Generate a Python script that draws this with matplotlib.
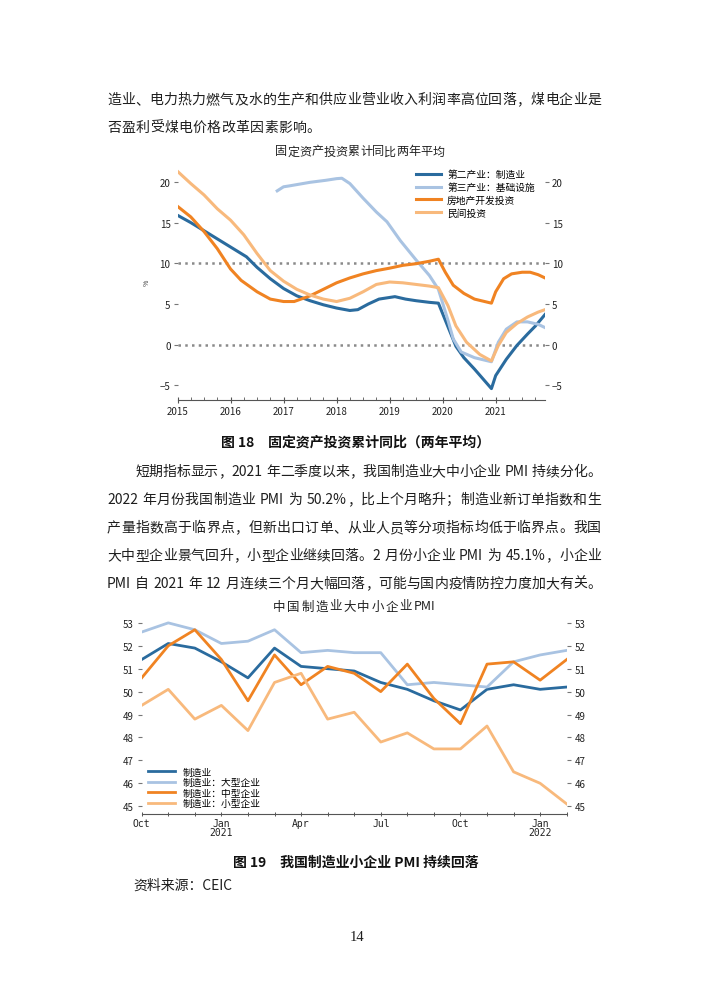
import re
import matplotlib
matplotlib.use('Agg')
import matplotlib.pyplot as plt
from matplotlib.font_manager import FontProperties

plt.rcParams['font.family'] = ['Noto Sans CJK SC', 'DejaVu Sans']
plt.rcParams['axes.unicode_minus'] = True

# ---- chart 1: fixed asset investment, two-year average (%)
mfg_x = [2015.0, 2015.25, 2015.5, 2015.75, 2016.0, 2016.3, 2016.5, 2016.75, 2017.0, 2017.25,
         2017.5, 2017.75, 2018.0, 2018.25, 2018.4, 2018.6, 2018.8, 2019.0, 2019.1, 2019.3,
         2019.5, 2019.75, 2019.92, 2020.1, 2020.25, 2020.4, 2020.6, 2020.92, 2021.0, 2021.2,
         2021.4, 2021.6, 2021.75, 2021.93]
mfg_y = [15.9, 15.0, 14.0, 13.0, 12.0, 10.8, 9.5, 8.1, 6.9, 6.0,
         5.4, 4.9, 4.5, 4.2, 4.3, 5.0, 5.6, 5.8, 5.9, 5.6,
         5.4, 5.2, 5.1, 2.2, -0.2, -1.6, -3.0, -5.4, -3.8, -1.8,
         -0.1, 1.3, 2.3, 3.7]
infra_x = [2016.88, 2017.0, 2017.1, 2017.5, 2017.8, 2018.0, 2018.1, 2018.25, 2018.5, 2018.75,
           2018.95, 2019.2, 2019.5, 2019.75, 2019.92, 2020.1, 2020.2, 2020.35, 2020.6, 2020.92,
           2021.05, 2021.2, 2021.4, 2021.6, 2021.8, 2021.93]
infra_y = [18.9, 19.4, 19.5, 19.95, 20.2, 20.4, 20.45, 19.8, 18.0, 16.3,
           15.1, 12.8, 10.4, 8.5, 6.8, 3.0, 0.7, -0.9, -1.6, -2.1,
           0.3, 1.9, 2.8, 2.8, 2.5, 2.1]
re_x = [2015.0, 2015.25, 2015.5, 2015.75, 2016.0, 2016.2, 2016.5, 2016.75, 2017.0, 2017.2,
        2017.5, 2017.75, 2018.0, 2018.25, 2018.5, 2018.75, 2019.0, 2019.25, 2019.5, 2019.75,
        2019.92, 2020.05, 2020.2, 2020.4, 2020.6, 2020.92, 2021.0, 2021.15, 2021.3, 2021.5,
        2021.65, 2021.8, 2021.93]
re_y = [17.0, 15.7, 13.9, 11.8, 9.3, 7.9, 6.5, 5.6, 5.3, 5.3,
        6.0, 6.8, 7.6, 8.2, 8.7, 9.1, 9.4, 9.75, 9.95, 10.25,
        10.5, 8.9, 7.3, 6.3, 5.6, 5.1, 6.5, 8.1, 8.7, 8.9,
        8.9, 8.6, 8.2]
pi_x = [2015.0, 2015.25, 2015.5, 2015.75, 2016.0, 2016.25, 2016.5, 2016.75, 2017.0, 2017.25,
        2017.5, 2017.75, 2018.0, 2018.25, 2018.5, 2018.75, 2019.0, 2019.25, 2019.5, 2019.75,
        2019.92, 2020.1, 2020.25, 2020.45, 2020.7, 2020.92, 2021.05, 2021.2, 2021.4, 2021.6,
        2021.8, 2021.93]
pi_y = [21.3, 19.8, 18.4, 16.7, 15.3, 13.5, 11.2, 9.1, 7.8, 6.8,
        6.1, 5.6, 5.3, 5.7, 6.5, 7.4, 7.7, 7.6, 7.4, 7.2,
        7.0, 4.8, 2.3, 0.3, -1.2, -2.0, -0.1, 1.5, 2.6, 3.4,
        4.0, 4.3]
c1_labels = ['第二产业：制造业', '第三产业：基础设施', '房地产开发投资', '民间投资']
years = [2015, 2016, 2017, 2018, 2019, 2020, 2021]

# ---- chart 2: PMI by firm size, Oct 2020 - Feb 2022
pmi_all = [51.4, 52.1, 51.9, 51.3, 50.6, 51.9, 51.1, 51.0, 50.9, 50.4, 50.1, 49.6, 49.2, 50.1, 50.3, 50.1, 50.2]
pmi_large = [52.6, 53.0, 52.7, 52.1, 52.2, 52.7, 51.7, 51.8, 51.7, 51.7, 50.3, 50.4, 50.3, 50.2, 51.3, 51.6, 51.8]
pmi_mid = [50.6, 52.0, 52.7, 51.4, 49.6, 51.6, 50.3, 51.1, 50.8, 50.0, 51.2, 49.7, 48.6, 51.2, 51.3, 50.5, 51.4]
pmi_small = [49.4, 50.1, 48.8, 49.4, 48.3, 50.4, 50.8, 48.8, 49.1, 47.8, 48.2, 47.5, 47.5, 48.5, 46.5, 46.0, 45.1]
c2_labels = ['制造业', '制造业：大型企业', '制造业：中型企业', '制造业：小型企业']
month_ticks = [0, 3, 6, 9, 12, 15]
month_labels = ['Oct', 'Jan\n2021', 'Apr', 'Jul', 'Oct', 'Jan\n2022']

colors = ['#2a6b9e', '#a9c3e2', '#f08322', '#f8b97c']

W, H = 710, 1004
fig = plt.figure(figsize=(7.1, 10.04), dpi=100)
fig.patch.set_facecolor('white')


def fx(px):
    return px / W


def fy(py):
    return 1 - py / H


renderer = fig.canvas.get_renderer()
body_fp = FontProperties(family=['Noto Sans CJK SC', 'DejaVu Sans'], size=10, weight='light')
title1_fp = FontProperties(family=['Noto Sans CJK SC', 'DejaVu Sans'], size=8.7)
title2_fp = FontProperties(family=['Noto Sans CJK SC', 'DejaVu Sans'], size=9)


def text_line(s, y, x0=107, x1=601, justify=True, fp=body_fp, color='#1e1e1e'):
    # place token by token so the line is justified like the printed page
    toks = re.findall(r'[A-Za-z0-9.%]+| |.', s)
    widths = []
    for t in toks:
        if t == ' ':
            widths.append(4.0)
        else:
            w, h, d = renderer.get_text_width_height_descent(t, fp, ismath=False)
            widths.append(w)
    gap = (x1 - x0 - sum(widths)) / (len(toks) - 1) if justify else 0.4
    x = x0
    for t, w in zip(toks, widths):
        if t != ' ':
            fig.text(fx(x), fy(y), t, fontproperties=fp, va='center', ha='left', color=color)
        x += w + gap


text_line('造业、电力热力燃气及水的生产和供应业营业收入利润率高位回落，煤电企业是', 100)
text_line('否盈利受煤电价格改革因素影响。', 128, justify=False)

fig.text(fx(356), fy(443), '图 18　固定资产投资累计同比（两年平均）', ha='center', va='center',
         fontsize=10, fontweight='bold', color='#111')

text_line('短期指标显示，2021 年二季度以来，我国制造业大中小企业 PMI 持续分化。', 472, x0=135)
text_line('2022 年月份我国制造业 PMI 为 50.2%，比上个月略升；制造业新订单指数和生', 500)
text_line('产量指数高于临界点，但新出口订单、从业人员等分项指标均低于临界点。我国', 528)
text_line('大中型企业景气回升，小型企业继续回落。2 月份小企业 PMI 为 45.1%，小企业', 556)
text_line('PMI 自 2021 年 12 月连续三个月大幅回落，可能与国内疫情防控力度加大有关。', 584)

fig.text(fx(356), fy(863), '图 19　我国制造业小企业 PMI 持续回落', ha='center', va='center',
         fontsize=10, fontweight='bold', color='#111')
fig.text(fx(133), fy(886), '资料来源：CEIC', ha='left', va='center', fontsize=10,
         fontweight='light', color='#1e1e1e')
fig.text(fx(357), fy(938), '14', ha='center', va='center', fontsize=10.5,
         family='Liberation Serif', color='#1e1e1e')

# ---------------- chart 1
ax1 = fig.add_axes([fx(177.5), fy(401), (545 - 177.5) / W, (401 - 165) / H])
ax1.axhline(10, color='#8a8a8a', lw=1.8, ls=(0, (1, 1.7)), zorder=1)
ax1.axhline(0, color='#8a8a8a', lw=1.8, ls=(0, (1, 1.7)), zorder=1)
series1 = [(mfg_x, mfg_y), (infra_x, infra_y), (re_x, re_y), (pi_x, pi_y)]
for (xs, ys), c, lab in zip(series1, colors, c1_labels):
    ax1.plot(xs, ys, color=c, lw=2.2, label=lab, solid_joinstyle='round', zorder=2)
ax1.set_xlim(2015, 2021.93)
ax1.set_ylim(-6.8, 22.2)
for s in ['top', 'left', 'right']:
    ax1.spines[s].set_visible(False)
ax1.spines['bottom'].set_color('#555')
ax1.spines['bottom'].set_linewidth(0.8)
ax1.set_yticks([-5, 0, 5, 10, 15, 20])
ax1.tick_params(axis='y', left=True, right=True, labelleft=True, labelright=True,
                length=3, width=0.8, color='#777', labelsize=7, pad=2, labelcolor='#222')
ax1.set_xticks(years)
ax1.set_xticklabels([str(y) for y in years])
ax1.set_xticks([y + q for y in years for q in (0.25, 0.5, 0.75) if y + q < 2021.93], minor=True)
ax1.tick_params(axis='x', which='major', direction='inout', length=4, width=0.8, color='#555',
                labelsize=7, pad=2, labelcolor='#222')
ax1.tick_params(axis='x', which='minor', direction='in', length=2, width=0.6, color='#555')
ax1.set_facecolor('none')
ax1.legend(loc='upper left', bbox_to_anchor=(fx(416), fy(170)), bbox_transform=fig.transFigure,
           frameon=False, fontsize=7, handlelength=2.6, handletextpad=0.6,
           labelspacing=0.3, borderpad=0, borderaxespad=0)
text_line('固定资产投资累计同比两年平均', 152, x0=275, x1=445, fp=title1_fp, color='#222')
fig.text(fx(147), fy(283), '%', ha='center', va='center', rotation=90, fontsize=5, color='#333')

# ---------------- chart 2
ax2 = fig.add_axes([fx(141.7), fy(815), (566.7 - 141.7) / W, (815 - 617) / H])
months = list(range(len(pmi_all)))
for ys, c, lab in zip([pmi_all, pmi_large, pmi_mid, pmi_small], colors, c2_labels):
    ax2.plot(months, ys, color=c, lw=2.0, label=lab, solid_joinstyle='round')
ax2.set_xlim(0, 16)
ax2.set_ylim(44.66, 53.3)
for s in ['top', 'left', 'right']:
    ax2.spines[s].set_visible(False)
ax2.spines['bottom'].set_color('#555')
ax2.spines['bottom'].set_linewidth(0.8)
ax2.set_yticks(range(45, 54))
ax2.tick_params(axis='y', left=True, right=True, labelleft=True, labelright=True,
                length=3, width=0.8, color='#777', labelsize=7, pad=3, labelcolor='#222')
ax2.set_xticks(month_ticks)
ax2.set_xticklabels(month_labels, linespacing=0.9, family='DejaVu Sans Mono')
ax2.set_xticks(months, minor=True)
ax2.tick_params(axis='x', which='both', direction='inout', length=3, width=0.7, color='#555',
                labelsize=7, pad=1.5, labelcolor='#222')
ax2.set_facecolor('none')
ax2.legend(loc='lower left', bbox_to_anchor=(fx(148), fy(809)), bbox_transform=fig.transFigure,
           frameon=False, fontsize=7, handlelength=2.8, handletextpad=0.8,
           labelspacing=0.05, borderpad=0, borderaxespad=0)
text_line('中国制造业大中小企业PMI', 607, x0=273, x1=435, fp=title2_fp, color='#222')

fig.savefig('out.png', dpi=100)
